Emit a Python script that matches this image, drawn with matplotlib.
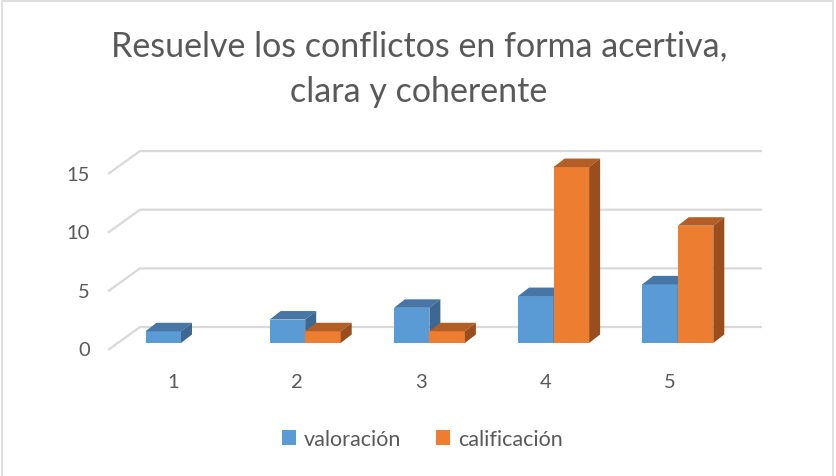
import matplotlib
matplotlib.use("Agg")
import matplotlib.pyplot as plt
from matplotlib.patches import Polygon, Patch, Rectangle

# ---- data ----
categories = [1, 2, 3, 4, 5]
valoracion = [1, 2, 3, 4, 5]
calificacion = [0, 1, 1, 15, 10]
y_ticks = [0, 5, 10, 15]
series_names = ["valoración", "calificación"]
title = "Resuelve los conflictos en forma acertiva,\nclara y coherente"

# ---- style ----
FRONT = ["#5B9BD5", "#ED7D31"]
TOP = ["#4675A6", "#B35E27"]
SIDE = ["#3C6893", "#9A4E1E"]
GRID = "#D9D9D9"
TXT = "#595959"
FONT = ["Lato", "DejaVu Sans"]

W, H = 836, 477
CAT_PX = 124.2     # px per category step
UNIT_PX = 11.73    # px per value unit
X0_PX, Y0_PX = 181, 344   # category 1 centre / value 0 on the bar front plane


def dx(px):
    return px / CAT_PX


def dy(px):
    return px / UNIT_PX


fig = plt.figure(figsize=(W / 100, H / 100), dpi=100)
ax = fig.add_axes([0, 0, 1, 1])
ax.set_xlim(1 - dx(X0_PX), 1 + dx(W - X0_PX))
ax.set_ylim(-dy(H - Y0_PX), dy(Y0_PX))
ax.axis("off")

# chart border
fig.patches.append(Rectangle((2 / W, -0.01), (833 - 2) / W, 1 - 1.5 / H + 0.01,
                             transform=fig.transFigure, fill=False, ec="#D9D9D9", lw=1.2))

# back wall gridlines + floor diagonals
x_back_l = 1 + dx(140 - X0_PX)
x_back_r = 1 + dx(762 - X0_PX)
x_front_l = 1 + dx(108 - X0_PX)
back_off = dy(Y0_PX - 328)
front_off = dy(Y0_PX - 351)
for v in y_ticks:
    ax.plot([x_front_l, x_back_l, x_back_r], [v + front_off, v + back_off, v + back_off],
            color=GRID, lw=1.6, solid_capstyle="butt", zorder=1)
    ax.text(1 + dx(90 - X0_PX), v + front_off, str(v), ha="right", va="center",
            fontsize=14.5, color=TXT, family=FONT)

# 3-D columns
bw = dx(35.5)
ddx, ddy = dx(11), dy(8.5)
for i, c in enumerate(categories):
    for s, vals in enumerate([valoracion, calificacion]):
        h = vals[i]
        if h == 0:
            continue
        x0 = c - bw + s * bw
        x1 = x0 + bw
        ax.bar(x0, h, width=bw, align="edge", color=FRONT[s], lw=0, zorder=3)
        ax.add_patch(Polygon([(x0, h), (x0 + ddx, h + ddy), (x1 + ddx, h + ddy), (x1, h)],
                             closed=True, fc=TOP[s], lw=0, zorder=3))
        ax.add_patch(Polygon([(x1, 0), (x1, h), (x1 + ddx, h + ddy), (x1 + ddx, ddy)],
                             closed=True, fc=SIDE[s], lw=0, zorder=3))

for c in categories:
    ax.text(c + dx(-8), dy(Y0_PX - 383), str(c), ha="center", va="center",
            fontsize=14.5, color=TXT, family=FONT)

# title
fig.text(419 / W, 1 - 69 / H, title, ha="center", va="center", fontsize=24.5,
         color=TXT, family=FONT, linespacing=1.5)

# legend
handles = [Patch(fc=FRONT[0], lw=0), Patch(fc=FRONT[1], lw=0)]
leg = fig.legend(handles, series_names, loc="center", bbox_to_anchor=(422 / W, 1 - 440 / H),
                 ncol=2, frameon=False, handlelength=0.68, handleheight=0.68,
                 handletextpad=0.35, columnspacing=1.6,
                 prop={"family": FONT, "size": 15.5})
for t in leg.get_texts():
    t.set_color(TXT)

fig.savefig("out.png", dpi=100)
